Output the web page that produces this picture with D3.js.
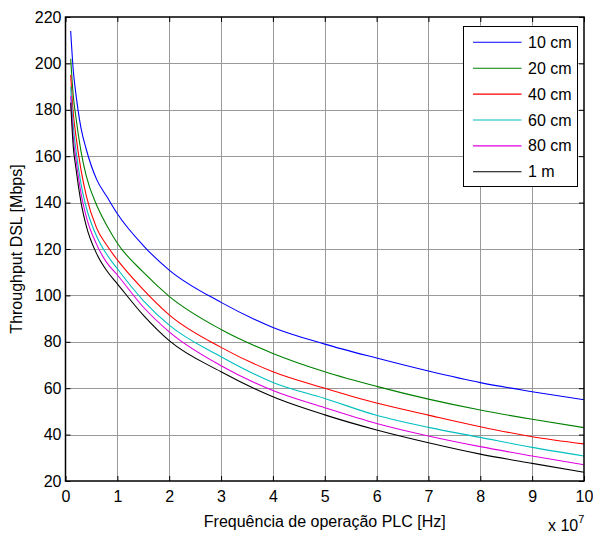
<!DOCTYPE html>
<html><head><meta charset="utf-8">
<script src="https://cdn.jsdelivr.net/npm/d3@7"></script>
<style>body{margin:0;background:#fff}svg{display:block}text{font-family:"Liberation Sans",Arial,sans-serif;fill:#000}</style>
</head><body><svg id="c" width="593" height="536"></svg>
<script>
const freq = [0.1,0.15,0.2,0.3,0.4,0.6,0.8,1,1.5,2,3,4,5,6,7,8,9,10];
const s10cm = [214,197,187,172,163,150,142.5,135.2,121.5,110.9,97,86.2,79,73,67.4,62.4,58.5,55];
const s20cm = [202,186,177,162,151.5,139,130,122.5,110,99.6,85.3,75,67.1,60.8,55.3,50.6,46.6,43];
const s40cm = [195,178.5,169,154,143,129,121.5,115.3,102.5,91.6,77.6,67.1,60,53.6,48.4,43.4,39.1,36];
const s60cm = [190,173,163,148,138,125.5,117.5,111.5,97.8,87.2,73.6,62.5,55.6,48.3,43.1,38.8,34.5,30.8];
const s80cm = [186,168,159,144,134,122,114,108.8,95,84.3,69.7,59,51.6,44.8,39.4,34.8,30.8,27];
const s1m = [183,164,155,140,130,118,110.5,105,91.5,80.5,67.1,56.3,48.5,42,36.5,31.6,27.6,23.8];
const seriesNames = ["10 cm","20 cm","40 cm","60 cm","80 cm","1 m"];
const seriesColors = ["#0000ff","#008000","#ff0000","#00bfbf","#e000e0","#000000"];
const xTicks = [0,1,2,3,4,5,6,7,8,9,10];
const yTicks = [20,40,60,80,100,120,140,160,180,200,220];
const xLabel = "Frequência de operação PLC [Hz]";
const yLabel = "Throughput DSL [Mbps]";

const all = [s10cm,s20cm,s40cm,s60cm,s80cm,s1m];
const L=65.5,R=584,T=17,B=481;
const svg = d3.select("#c");
const x = d3.scaleLinear().domain([0,10]).range([L,R]);
const y = d3.scaleLinear().domain([20,220]).range([B,T]);
const fs = 16;

// grid
const g = svg.append("g");
g.selectAll(".vg").data(xTicks.slice(1,-1)).enter().append("line")
 .attr("x1",d=>Math.round(x(d))+0.5).attr("x2",d=>Math.round(x(d))+0.5).attr("y1",T).attr("y2",B)
 .attr("stroke","#999").attr("stroke-width",1);
g.selectAll(".hg").data(yTicks.slice(1,-1)).enter().append("line")
 .attr("y1",d=>Math.round(y(d))+0.5).attr("y2",d=>Math.round(y(d))+0.5).attr("x1",L).attr("x2",R)
 .attr("stroke","#999").attr("stroke-width",1);

// lines
const line = d3.line().x((d,i)=>x(freq[i])).y(d=>y(d)).curve(d3.curveMonotoneX);
all.forEach((s,k)=>{
  svg.append("path").attr("d",line(s)).attr("fill","none").attr("stroke",seriesColors[k]).attr("stroke-width",1.1);
});

// axes
const ax = svg.append("g").attr("transform",`translate(0,${B})`).call(d3.axisBottom(x).tickValues(xTicks).tickSizeInner(-5).tickSizeOuter(0).tickPadding(10).tickFormat(d3.format("d")));
const ax2 = svg.append("g").attr("transform",`translate(0,${T})`).call(d3.axisTop(x).tickValues(xTicks).tickSizeInner(-5).tickSizeOuter(0).tickFormat(""));
const ay = svg.append("g").attr("transform",`translate(${L},0)`).call(d3.axisLeft(y).tickValues(yTicks).tickSizeInner(-5).tickSizeOuter(0).tickPadding(4));
const ay2 = svg.append("g").attr("transform",`translate(${R},0)`).call(d3.axisRight(y).tickValues(yTicks).tickSizeInner(-5).tickSizeOuter(0).tickFormat(""));
[ax,ax2,ay,ay2].forEach(a=>{
  a.selectAll("path").remove();
  a.selectAll("line").attr("stroke","#000");
  a.selectAll("text").attr("font-size",fs).attr("font-family","Liberation Sans, Arial, sans-serif");
});
svg.append("rect").attr("x",L).attr("y",T).attr("width",R-L).attr("height",B-T).attr("fill","none").attr("stroke","#000").attr("stroke-width",1.5);

// labels
svg.append("text").attr("x",(L+R)/2).attr("y",527).attr("text-anchor","middle").attr("font-size",fs).text(xLabel);
svg.append("text").attr("transform",`translate(22,${(T+B)/2}) rotate(-90)`).attr("text-anchor","middle").attr("font-size",fs).text(yLabel);
const ex = svg.append("text").attr("x",548).attr("y",531).attr("font-size",fs);
ex.append("tspan").text("x 10");
ex.append("tspan").attr("dy",-8).attr("font-size",11).text("7");

// legend
const lg = svg.append("g");
lg.append("rect").attr("x",463.5).attr("y",26.5).attr("width",114).attr("height",160).attr("fill","#fff").attr("stroke","#000").attr("stroke-width",1);
seriesNames.forEach((n,k)=>{
  const yy = 42.3 + k*25.9;
  lg.append("line").attr("x1",473).attr("x2",521.5).attr("y1",yy).attr("y2",yy).attr("stroke",seriesColors[k]).attr("stroke-width",1.1);
  lg.append("text").attr("x",528).attr("y",yy+5.5).attr("font-size",fs).text(n);
});
</script></body></html>
